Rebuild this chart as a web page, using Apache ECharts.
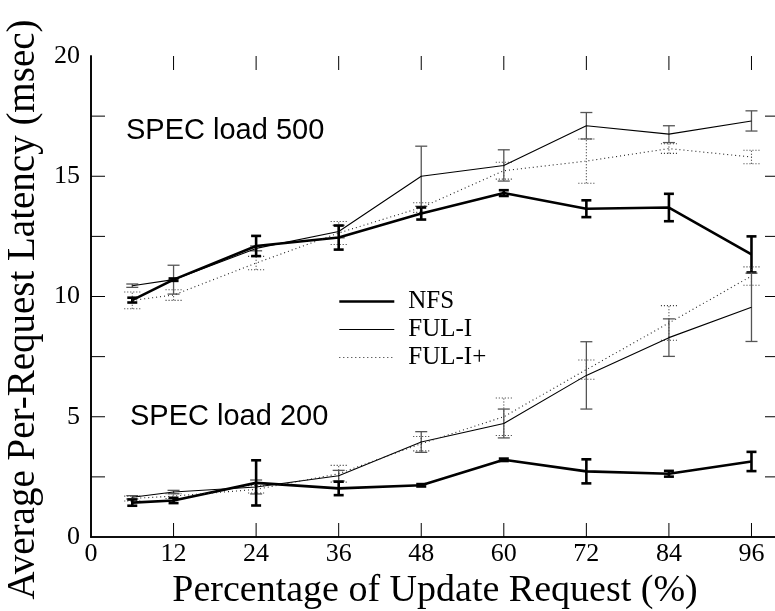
<!DOCTYPE html>
<html>
<head>
<meta charset="utf-8">
<script src="https://cdn.jsdelivr.net/npm/echarts@6/dist/echarts.min.js"></script>
<style>
  html, body { margin: 0; padding: 0; background: #fff; }
  #chart { width: 775px; height: 611px; }
</style>
</head>
<body>
<div id="chart"></div>
<script>
// Percentage of update requests (x positions of measurements)
const updatePct = [6, 12, 24, 36, 48, 60, 72, 84, 96];

// SPEC load 500: mean latency (msec) and error half-widths
const nfs500 = [9.85, 10.7, 12.1, 12.45, 13.45, 14.3, 13.65, 13.7, 11.75];
const nfs500Err = [0.1, 0.05, 0.42, 0.5, 0.25, 0.12, 0.35, 0.57, 0.75];
const fulI500 = [10.45, 10.7, 12.0, 12.7, 15.0, 15.45, 17.1, 16.75, 17.3];
const fulI500Err = [0.07, 0.6, 0.1, 0.26, 1.25, 0.65, 0.55, 0.35, 0.42];
const fulIp500 = [9.84, 10.06, 11.39, 12.64, 13.7, 15.23, 15.63, 16.15, 15.8];
const fulIp500Err = [0.35, 0.22, 0.28, 0.48, 0.2, 0.35, 0.92, 0.2, 0.28];

// SPEC load 200: mean latency (msec) and error half-widths
const nfs200 = [1.43, 1.52, 2.25, 2.02, 2.15, 3.21, 2.73, 2.63, 3.14];
const nfs200Err = [0.13, 0.11, 0.94, 0.28, 0.05, 0.05, 0.5, 0.12, 0.4];
const fulI200 = [1.65, 1.87, 2.08, 2.55, 3.95, 4.72, 6.72, 8.29, 9.55];
const fulI200Err = [0.07, 0.07, 0.29, 0.22, 0.43, 0.6, 1.4, 0.78, 1.42];
const fulIp200 = [1.6, 1.7, 1.98, 2.63, 3.88, 5.0, 6.96, 8.9, 10.85];
const fulIp200Err = [0.1, 0.1, 0.15, 0.35, 0.3, 0.78, 0.4, 0.72, 0.38];

const seriesNames = ['NFS', 'FUL-I', 'FUL-I+'];
const yTickLabels = [0, 5, 10, 15, 20];
// inward tick marks on the frame
const xTickMarks = [12, 24, 36, 48, 60, 72, 84, 96];
const yTickMarks = [2.5, 5, 7.5, 10, 12.5, 15, 17.5];

const SERIF = '"Liberation Serif", "DejaVu Serif", serif';
const SANS = '"Liberation Sans", Arial, sans-serif';
const TICK_LEN = 14;

const styles = {
  'NFS':    { color: '#000', width: 2.6, type: 'solid', errColor: '#000', errWidth: 2.6, cap: 5, errDash: null },
  'FUL-I':  { color: '#000', width: 1.1, type: 'solid', errColor: '#555', errWidth: 1.3, cap: 6, errDash: null },
  'FUL-I+': { color: '#222', width: 1.1, type: [1, 3], errColor: '#333', errWidth: 1.1, cap: 8, errDash: [1, 2] }
};

function pairs(ys) {
  return updatePct.map((x, i) => [x, ys[i]]);
}
function errData(ys, es) {
  return updatePct.map((x, i) => [x, ys[i] - es[i], ys[i] + es[i]]);
}

function lineSeries(name, ys) {
  const s = styles[name];
  return {
    name: name,
    type: 'line',
    data: pairs(ys),
    symbol: 'none',
    showSymbol: false,
    z: 3,
    lineStyle: { color: s.color, width: s.width, type: s.type },
    itemStyle: { color: s.color },
    animation: false
  };
}

function errorSeries(name, ys, es) {
  const s = styles[name];
  return {
    name: name + ' error',
    type: 'custom',
    data: errData(ys, es),
    z: 2,
    animation: false,
    renderItem: function (params, api) {
      const x = api.value(0);
      const lo = api.coord([x, api.value(1)]);
      const hi = api.coord([x, api.value(2)]);
      const st = { stroke: s.errColor, lineWidth: s.errWidth, lineDash: s.errDash };
      return {
        type: 'group',
        children: [
          { type: 'line', shape: { x1: lo[0], y1: lo[1], x2: hi[0], y2: hi[1] }, style: st },
          { type: 'line', shape: { x1: lo[0] - s.cap, y1: lo[1], x2: lo[0] + s.cap, y2: lo[1] }, style: st },
          { type: 'line', shape: { x1: hi[0] - s.cap, y1: hi[1], x2: hi[0] + s.cap, y2: hi[1] }, style: st }
        ]
      };
    }
  };
}

// tick marks drawn inward from the frame, positioned through the axis scales
function tickSeries(values, vertical) {
  return {
    type: 'custom',
    data: values.map(v => (vertical ? [v, 0] : [0, v])),
    z: 4,
    silent: true,
    animation: false,
    renderItem: function (params, api) {
      const cs = params.coordSys;
      const st = { stroke: '#000', lineWidth: 1 };
      if (vertical) {
        const px = api.coord([api.value(0), 0])[0];
        return {
          type: 'group',
          children: [
            { type: 'line', shape: { x1: px, y1: cs.y + cs.height, x2: px, y2: cs.y + cs.height - TICK_LEN }, style: st },
            { type: 'line', shape: { x1: px, y1: cs.y, x2: px, y2: cs.y + TICK_LEN }, style: st }
          ]
        };
      }
      const py = api.coord([0, api.value(1)])[1];
      return {
        type: 'group',
        children: [
          { type: 'line', shape: { x1: cs.x, y1: py, x2: cs.x + TICK_LEN, y2: py }, style: st },
          { type: 'line', shape: { x1: cs.x + cs.width, y1: py, x2: cs.x + cs.width - TICK_LEN, y2: py }, style: st }
        ]
      };
    }
  };
}

const axisLineStyle = { color: '#000', width: 1.6 };

const chart = echarts.init(document.getElementById('chart'), null, { renderer: 'canvas' });

chart.setOption({
  backgroundColor: '#fff',
  animation: false,
  grid: { left: 91, top: 56, right: -4, bottom: 74, outerBoundsMode: 'none', containLabel: false },
  legend: {
    data: [
      { name: 'NFS', lineStyle: { width: 2.6 } },
      { name: 'FUL-I', lineStyle: { width: 1.1 } },
      { name: 'FUL-I+', lineStyle: { width: 1.1 } }
    ],
    orient: 'vertical',
    left: 333,
    top: 284,
    itemWidth: 55,
    itemHeight: 14,
    itemGap: 3,
    itemStyle: { opacity: 0 },
    textStyle: { fontFamily: SERIF, fontSize: 25, color: '#000', padding: [0, 0, 0, 9] },
    selectedMode: false
  },
  xAxis: [
    {
      type: 'value', min: 0, max: 100, interval: 12, position: 'bottom',
      name: 'Percentage of Update Request (%)', nameLocation: 'middle', nameGap: 27,
      nameTextStyle: { fontFamily: SERIF, fontSize: 38, color: '#000' },
      axisLine: { show: true, lineStyle: axisLineStyle },
      axisTick: { show: false },
      axisLabel: {
        fontFamily: SERIF, fontSize: 26, color: '#000', margin: 4, showMaxLabel: false,
        formatter: v => (v > 96 ? '' : String(v))
      },
      splitLine: { show: false }
    },
    {
      type: 'value', min: 0, max: 100, interval: 12, position: 'top',
      axisLine: { show: true, lineStyle: axisLineStyle },
      axisTick: { show: false },
      axisLabel: { show: false },
      splitLine: { show: false }
    }
  ],
  yAxis: [
    {
      type: 'value', min: 0, max: 20, interval: 5, position: 'left',
      name: 'Average Per-Request Latency (msec)', nameLocation: 'middle', nameGap: 47,
      nameTextStyle: { fontFamily: SERIF, fontSize: 39, color: '#000', padding: [0, 26, 0, 0] },
      axisLine: { show: true, lineStyle: axisLineStyle },
      axisTick: { show: false },
      axisLabel: {
        fontFamily: SERIF, fontSize: 26, color: '#000', margin: 11,
        formatter: v => (yTickLabels.indexOf(v) >= 0 ? String(v) : '')
      },
      splitLine: { show: false }
    },
    {
      type: 'value', min: 0, max: 20, interval: 5, position: 'right',
      axisLine: { show: true, lineStyle: axisLineStyle },
      axisTick: { show: false },
      axisLabel: { show: false },
      splitLine: { show: false }
    }
  ],
  graphic: [
    { type: 'text', left: 126, top: 116, style: { text: 'SPEC load 500', font: '29px ' + SANS, fill: '#000' } },
    { type: 'text', left: 130, top: 402, style: { text: 'SPEC load 200', font: '29px ' + SANS, fill: '#000' } }
  ],
  series: [
    tickSeries(xTickMarks, true),
    tickSeries(yTickMarks, false),
    errorSeries('FUL-I+', fulIp500, fulIp500Err),
    errorSeries('FUL-I', fulI500, fulI500Err),
    errorSeries('NFS', nfs500, nfs500Err),
    errorSeries('FUL-I+', fulIp200, fulIp200Err),
    errorSeries('FUL-I', fulI200, fulI200Err),
    errorSeries('NFS', nfs200, nfs200Err),
    lineSeries('NFS', nfs500),
    lineSeries('FUL-I', fulI500),
    lineSeries('FUL-I+', fulIp500),
    lineSeries('NFS', nfs200),
    lineSeries('FUL-I', fulI200),
    lineSeries('FUL-I+', fulIp200)
  ]
});
</script>
</body>
</html>
